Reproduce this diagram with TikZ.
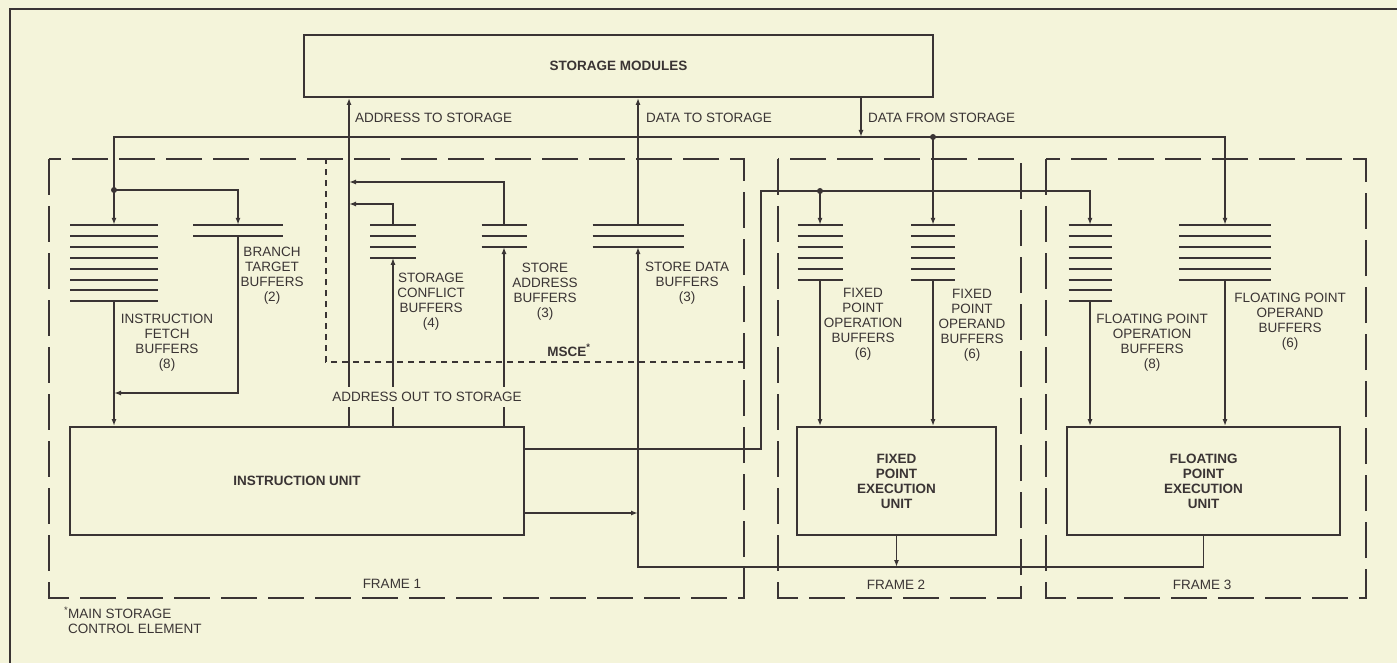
\documentclass[tikz,border=0pt]{standalone}
\usepackage{fontspec}
\setmainfont{Liberation Sans}
\usetikzlibrary{arrows.meta,calc}
\definecolor{bgc}{RGB}{244,244,218}
\definecolor{ink}{RGB}{58,52,52}
\newcommand{\lblfont}{\fontsize{13.5}{15}\selectfont}
\newcommand{\bufstack}[5]{%
  \pgfmathsetmacro{\bufh}{(#5-1)*10.9}
  \node[bufnode, minimum width=#4pt, minimum height=\bufh pt] (#1) at (#2,{#3+\bufh/2}) {};
  \foreach \k in {1,...,#5}{\draw[bufline] ({#2-#4/2},{#3+(\k-1)*10.9}) -- ++(#4,0);}
}
\begin{document}
\begin{tikzpicture}[x=1pt,y=-1pt,
  conn/.style={draw=ink, line width=1.4pt},
  arr/.style={conn, -{Latex[length=7pt,width=5pt]}},
  ubox/.style={draw=ink, line width=1.9pt, rectangle, inner sep=0pt, text=ink, font=\lblfont\bfseries, align=center},
  frm/.style={draw=ink, line width=2.2pt, dash pattern=on 36pt off 11pt},
  msce/.style={draw=ink, line width=1.3pt, dash pattern=on 6pt off 5pt},
  bufline/.style={draw=ink, line width=2pt},
  bufnode/.style={inner sep=0pt, rectangle},
  lbl/.style={text=ink, inner sep=0pt, align=center, font=\lblfont},
  jdot/.style={circle, fill=ink, inner sep=0pt, minimum size=6pt},
]
\useasboundingbox (0,0) rectangle (1397,663);
\fill[bgc] (0,0) rectangle (1397,663);
% outer border
\draw[ink, line width=2pt] (10,663) -- (10,9) -- (1397,9);

% frames
\draw[frm] (49,159) rectangle (744,598);
\draw[frm] (778,159) rectangle (1021,598);
\draw[frm] (1046,159) rectangle (1366,598);
\draw[msce] (744,362) -- (326,362) -- (326,159);

% boxes
\node[ubox, minimum width=629pt, minimum height=62pt] (sm) at (618.5,66) {STORAGE MODULES};
\node[ubox, minimum width=454pt, minimum height=108pt] (iu) at (297,481) {INSTRUCTION UNIT};
\node[ubox, minimum width=199pt, minimum height=108pt] (fxx) at (896.5,481) {FIXED\\POINT\\EXECUTION\\UNIT};
\node[ubox, minimum width=273pt, minimum height=108pt] (fpx) at (1203.5,481) {FLOATING\\POINT\\EXECUTION\\UNIT};

% buffers
\bufstack{ifb}{114}{225}{88}{8}
\bufstack{btb}{238}{225}{90}{2}
\bufstack{scb}{393}{225}{46}{4}
\bufstack{sab}{504}{225}{45}{3}
\bufstack{sdb}{638}{225}{91}{3}
\bufstack{fxop}{820}{225}{45}{6}
\bufstack{fxopd}{933}{225}{44}{6}
\bufstack{fpop}{1090}{225}{43}{8}
\bufstack{fpopd}{1225}{225}{92}{6}

% coordinates
\coordinate (dfs) at (861,137);
\coordinate (ats) at (349,137);
\coordinate (j1) at (114,190);
\coordinate (j2) at (114,393);
\coordinate (a1) at (349,204);
\coordinate (a2) at (349,182);
\coordinate (c1) at (761,449);
\coordinate (c2) at (761,191);
\coordinate (lp) at (638,567);
\coordinate (d1) at (600,513);

% connectors
\draw[arr] (sm.south -| dfs) -- (dfs);
\draw[arr] (dfs) -| (ifb.north);
\draw[arr] (dfs) -| (fpopd.north);
\draw[arr] (dfs -| fxopd.north) -- (fxopd.north);
\node[jdot] (jd1) at (dfs -| fxopd.north) {};
\draw[arr] (j1) -| (btb.north);
\node[jdot] (jd2) at (j1) {};
\draw[arr] (ifb.south) -- (ifb.south |- iu.north);
\draw[arr] (btb.south) |- (j2);
\draw[arr] (iu.north -| ats) -- (sm.south -| ats);
\draw[arr] (iu.north -| scb.south) -- (scb.south);
\draw[arr] (iu.north -| sab.south) -- (sab.south);
\draw[arr] (scb.north) |- (a1);
\draw[arr] (sab.north) |- (a2);
\draw[arr] (sdb.north) -- (sdb.north |- sm.south);
\draw[arr] (fpx.south) |- (lp) -- (sdb.south);
\draw[arr] (fxx.south) -- (fxx.south |- lp);
\draw[arr] (iu.east |- d1) -- (lp |- d1);
\draw[arr] (iu.east |- c1) -- (c1) -- (c2) -| (fpop.north);
\draw[arr] (fxop.north |- c2) -- (fxop.north);
\node[jdot] (jd3) at (fxop.north |- c2) {};
\draw[arr] (fxop.south) -- (fxop.south |- fxx.north);
\draw[arr] (fxopd.south) -- (fxopd.south |- fxx.north);
\draw[arr] (fpop.south) -- (fpop.south |- fpx.north);
\draw[arr] (fpopd.south) -- (fpopd.south |- fpx.north);

% labels
\node[lbl, anchor=base west] (t1) at (355,123) {ADDRESS TO STORAGE};
\node[lbl, anchor=base west] (t2) at (646,123) {DATA TO STORAGE};
\node[lbl, anchor=base west] (t3) at (868,123) {DATA FROM STORAGE};
\node[lbl, fill=bgc, inner xsep=2pt, inner ysep=5.5pt] (t4) at (427,397) {ADDRESS OUT TO STORAGE};
\node[lbl, anchor=north] (l1) at (167,314) {INSTRUCTION\\FETCH\\BUFFERS\\(8)};
\node[lbl, anchor=north] (l2) at (272,247) {BRANCH\\TARGET\\BUFFERS\\(2)};
\node[lbl, anchor=north] (l3) at (431,273) {STORAGE\\CONFLICT\\BUFFERS\\(4)};
\node[lbl, anchor=north] (l4) at (545,263) {STORE\\ADDRESS\\BUFFERS\\(3)};
\node[lbl, anchor=north] (l5) at (687,262) {STORE DATA\\BUFFERS\\(3)};
\node[lbl, anchor=north] (l6) at (863,288) {FIXED\\POINT\\OPERATION\\BUFFERS\\(6)};
\node[lbl, anchor=north] (l7) at (972,289) {FIXED\\POINT\\OPERAND\\BUFFERS\\(6)};
\node[lbl, anchor=north] (l8) at (1152,314) {FLOATING POINT\\OPERATION\\BUFFERS\\(8)};
\node[lbl, anchor=north] (l9) at (1290,293) {FLOATING POINT\\OPERAND\\BUFFERS\\(6)};
\node[lbl, anchor=base, font=\lblfont\bfseries] (msl) at (569,356) {MSCE\textsuperscript{*}};
\node[lbl] (f1) at (392,584) {FRAME 1};
\node[lbl] (f2) at (896,585) {FRAME 2};
\node[lbl] (f3) at (1202,585) {FRAME 3};
\node[lbl, anchor=north west, align=left] (fn) at (68,607) {\llap{\textsuperscript{*}}MAIN STORAGE\\CONTROL ELEMENT};
\end{tikzpicture}
\end{document}
